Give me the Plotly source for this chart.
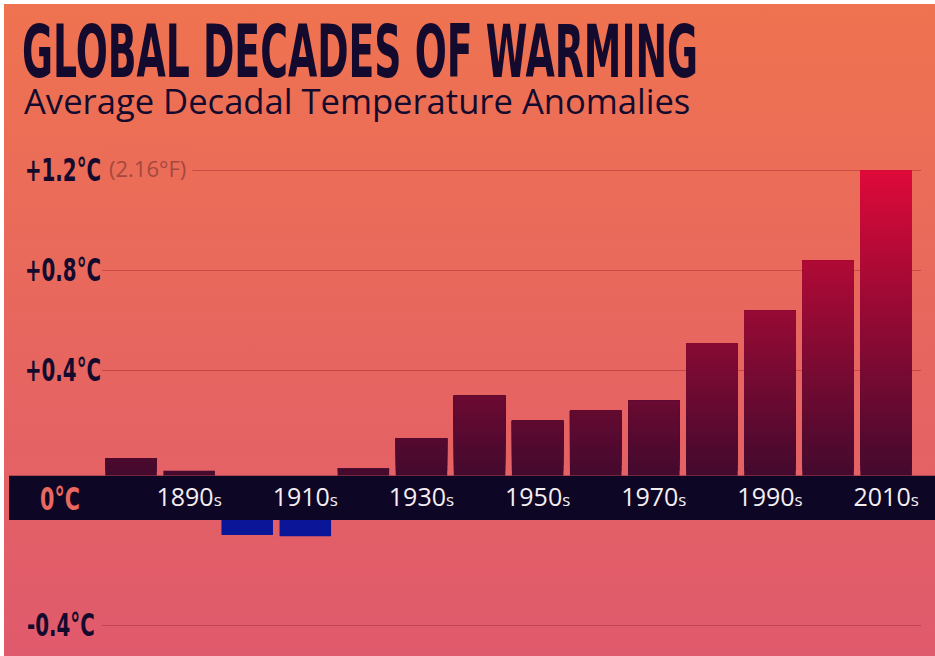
import base64
import plotly.graph_objects as go

# ---- data -------------------------------------------------------------
decades = ["1880s", "1890s", "1900s", "1910s", "1920s", "1930s", "1940s",
           "1950s", "1960s", "1970s", "1980s", "1990s", "2000s", "2010s"]
anomaly_c = [0.05, 0.00, -0.04, -0.045, 0.01, 0.13, 0.30,
             0.20, 0.24, 0.28, 0.51, 0.64, 0.84, 1.20]

labeled_decades = ["1890s", "1910s", "1930s", "1950s", "1970s", "1990s", "2010s"]
pos_tick_vals = [0.4, 0.8, 1.2]
pos_tick_text = ["+0.4°C", "+0.8°C", "+1.2°C"]
neg_tick_vals = [-0.4]
neg_tick_text = ["-0.4°C"]

# ---- canvas helpers ---------------------------------------------------
W, H = 935, 656


def fx(px):
    return px / W


def fy(px):
    return 1 - px / H


NARROW = "Liberation Sans Narrow, DejaVu Sans Condensed, Arial Narrow, sans-serif"
SANS = "Open Sans, Noto Sans, sans-serif"
INK = "#140A2E"

# hidden strip of each half that sits under the zero band
STEP = 0.02
TOP_FLOOR = -0.02
BOTTOM_CEIL = 0.02


def bar_color(level):
    # dark plum at the band, rising to crimson at +1.2°C
    t = max(0.0, min(1.0, level / 1.2))
    r = round(70 + t * (222 - 70))
    g = 10
    b = round(46 + t * (58 - 46))
    return f"rgb({r},{g},{b})"


fig = go.Figure()

# warm decades: layered bars, each starting a little higher and a little
# brighter, so the visible fill darkens toward the band without seams
n_slices = int(round((max(anomaly_c) - TOP_FLOOR) / STEP))
for k in range(n_slices):
    lo = TOP_FLOOR + k * STEP
    ys = [v - lo if v > lo + 1e-9 else None for v in anomaly_c]
    fig.add_trace(go.Bar(
        x=decades, y=ys, base=lo, xaxis="x", yaxis="y",
        marker=dict(color=bar_color(lo + STEP / 2), line=dict(width=0)),
        showlegend=False, hoverinfo="skip",
    ))

# cool decades hang beneath the band
fig.add_trace(go.Bar(
    x=decades,
    y=[v - BOTTOM_CEIL if v < 0 else None for v in anomaly_c],
    base=BOTTOM_CEIL, xaxis="x2", yaxis="y2",
    marker=dict(color="#0B1597", line=dict(width=0)),
    showlegend=False, hoverinfo="skip",
))

# ---- background gradient ---------------------------------------------
svg = (
    '<svg xmlns="http://www.w3.org/2000/svg" width="931" height="652" '
    'preserveAspectRatio="none"><defs><linearGradient id="g" x1="0" y1="0" '
    'x2="0" y2="1"><stop offset="0" stop-color="#EF7350"/>'
    '<stop offset="1" stop-color="#E05A6D"/></linearGradient></defs>'
    '<rect width="100%" height="100%" fill="url(#g)"/></svg>'
)
bg_src = "data:image/svg+xml;base64," + base64.b64encode(svg.encode()).decode()

tick_text_x = [d[:-1] + "<span style='font-size:17px'>s</span>" for d in labeled_decades]

grid = "rgba(150,30,40,0.40)"
label_font = dict(family=NARROW, size=22, color=INK, weight="bold")

# value labels on the temperature scale (drawn at their axis positions)
temp_labels = [
    dict(text=t, xref="paper", yref="y", x=fx(23), y=v,
         xanchor="left", yanchor="middle", showarrow=False, font=label_font)
    for v, t in zip(pos_tick_vals, pos_tick_text)
] + [
    dict(text=t, xref="paper", yref="y2", x=fx(25), y=v,
         xanchor="left", yanchor="middle", showarrow=False, font=label_font)
    for v, t in zip(neg_tick_vals, neg_tick_text)
]

fig.update_layout(
    template="none",
    width=W, height=H,
    margin=dict(l=0, r=0, t=0, b=0),
    paper_bgcolor="white",
    plot_bgcolor="rgba(0,0,0,0)",
    barmode="overlay",
    bargap=0.113,
    showlegend=False,
    images=[dict(
        source=bg_src, xref="paper", yref="paper",
        x=fx(4), y=fy(4), sizex=(W - 4) / W, sizey=(H - 4) / H,
        xanchor="left", yanchor="top", sizing="stretch", layer="below",
    )],
    xaxis=dict(
        domain=[fx(102), fx(921)], anchor="y", automargin=False,
        type="category", categoryorder="array", categoryarray=decades,
        range=[-0.5, 13.6],
        tickmode="array", tickvals=labeled_decades, ticktext=tick_text_x,
        tickfont=dict(family=SANS, size=25, color="#F4EEF2"),
        ticks="", ticklabelstandoff=4,
        showgrid=False, zeroline=False, showline=False,
    ),
    yaxis=dict(
        domain=[fy(475.7), fy(140)], anchor="x", automargin=False,
        range=[TOP_FLOOR, 1.3228],
        tickmode="array", tickvals=pos_tick_vals, showticklabels=False,
        ticks="", showgrid=True, gridcolor=grid, gridwidth=1,
        zeroline=False, showline=False,
    ),
    xaxis2=dict(
        domain=[fx(102), fx(921)], anchor="y2", matches="x", automargin=False,
        type="category", showticklabels=False,
        showgrid=False, zeroline=False, showline=False,
    ),
    yaxis2=dict(
        domain=[0, fy(520)], anchor="x2", automargin=False,
        range=[-0.524, BOTTOM_CEIL],
        tickmode="array", tickvals=neg_tick_vals, showticklabels=False,
        ticks="", showgrid=True, gridcolor=grid, gridwidth=1,
        zeroline=False, showline=False,
    ),
    shapes=[dict(
        type="rect", xref="paper", yref="paper",
        x0=fx(9), x1=1, y0=fy(520), y1=fy(475.7),
        fillcolor="#0E0625", line=dict(width=0), layer="below",
    )],
    annotations=[
        dict(text="GLOBAL DECADES OF WARMING", xref="paper", yref="paper",
             x=fx(20), y=fy(51.5), xanchor="left", yanchor="middle",
             showarrow=False,
             font=dict(family=NARROW, size=42, color=INK, weight="bold")),
        dict(text="Average Decadal Temperature Anomalies", xref="paper", yref="paper",
             x=fx(22), y=fy(100), xanchor="left", yanchor="middle",
             showarrow=False, font=dict(family=SANS, size=34.6, color=INK)),
        dict(text="(2.16°F)", xref="paper", yref="paper",
             x=fx(102), y=fy(167.5), xanchor="left", yanchor="middle",
             showarrow=False, bgcolor="#EB6D57", borderpad=6,
             font=dict(family=SANS, size=22, color="#A5483F")),
        dict(text="0°C", xref="paper", yref="paper",
             x=fx(60), y=fy(499), xanchor="center", yanchor="middle",
             showarrow=False,
             font=dict(family=NARROW, size=23, color="#E9685F", weight="bold")),
    ] + temp_labels,
)

# the condensed display face is tall: stretch those texts vertically in place
stretch_js = """
var gd = document.getElementById('{plot_id}');
function stretchDisplayText() {
  gd.querySelectorAll('text.annotation-text').forEach(function (t) {
    var s = t.textContent, k = null;
    if (s === 'GLOBAL DECADES OF WARMING') k = 1.73;
    else if (/°C$/.test(s)) k = 1.42;
    if (k) {
      t.style.transformBox = 'fill-box';
      t.style.transformOrigin = 'center';
      t.style.transform = 'scaleY(' + k + ')';
    }
  });
}
stretchDisplayText();
gd.on('plotly_afterplot', stretchDisplayText);
"""

fig.write_html("out.html", post_script=stretch_js)
